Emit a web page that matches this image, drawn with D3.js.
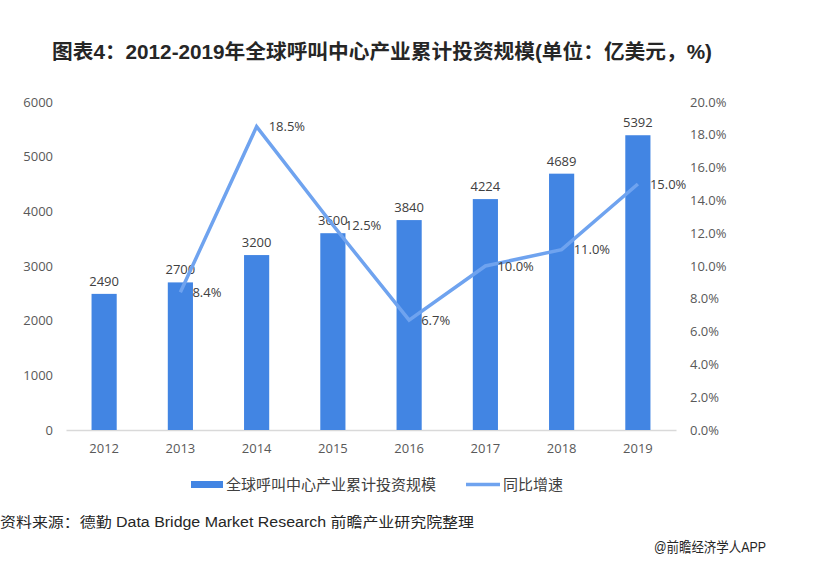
<!DOCTYPE html>
<html>
<head>
<meta charset="utf-8">
<script src="https://cdn.jsdelivr.net/npm/d3@7"></script>
<style>
    body { margin: 0; background: #fff; }
    text { font-family: "Liberation Sans", "Noto Sans CJK SC", sans-serif; }
</style>
</head>
<body>
<div id="chartdiv"></div>
<script>
// data
let years = ["2012", "2013", "2014", "2015", "2016", "2017", "2018", "2019"],
    invest = [2490, 2700, 3200, 3600, 3840, 4224, 4689, 5392],
    growth = [null, 8.4, 18.5, 12.5, 6.7, 10.0, 11.0, 15.0],
    leftTicks = [0, 1000, 2000, 3000, 4000, 5000, 6000],
    rightTicks = [0, 2, 4, 6, 8, 10, 12, 14, 16, 18, 20];

let title = "图表4：2012-2019年全球呼叫中心产业累计投资规模(单位：亿美元，%)",
    barName = "全球呼叫中心产业累计投资规模",
    lineName = "同比增速",
    source = "资料来源：德勤 Data Bridge Market Research 前瞻产业研究院整理",
    credit = "@前瞻经济学人APP";

// draw
{
    let width = 814,
        height = 567,
        margin = { top: 102, right: 138, bottom: 137, left: 66 },
        barColor = "#4285e3",
        lineColor = "#6fa3ef",
        labelColor = "#404040",
        tickColor = "#595959";

    let svg = d3.select("#chartdiv").append("svg")
        .attr("width", width)
        .attr("height", height);

    // title
    svg.append("text")
        .attr("x", 52)
        .attr("y", 59)
        .attr("font-size", 20)
        .attr("font-weight", "bold")
        .attr("fill", "#262626")
        .attr("textLength", 660)
        .attr("lengthAdjust", "spacingAndGlyphs")
        .text(title);

    let x = d3.scaleBand()
        .domain(years)
        .range([margin.left, width - margin.right])
        .paddingInner(0.67)
        .paddingOuter(0.335);
    let yL = d3.scaleLinear()
        .domain([0, 6000])
        .range([height - margin.bottom, margin.top]);
    let yR = d3.scaleLinear()
        .domain([0, 20])
        .range([height - margin.bottom, margin.top]);

    // left axis
    let axL = svg.append("g")
        .attr("transform", "translate(" + (margin.left - 6) + ",0)")
        .call(d3.axisLeft(yL).tickValues(leftTicks).tickSize(0).tickPadding(7)
            .tickFormat(d3.format("d")));
    axL.select(".domain").remove();
    axL.selectAll("text")
        .attr("font-size", 13)
        .attr("fill", tickColor)
        .style("font-family", "'Open Sans', sans-serif");

    // right axis
    let axR = svg.append("g")
        .attr("transform", "translate(" + (690) + ",0)")
        .call(d3.axisRight(yR).tickValues(rightTicks).tickSize(0).tickPadding(0)
            .tickFormat(function(d) { return d.toFixed(1) + "%"; }));
    axR.select(".domain").remove();
    axR.selectAll("text")
        .attr("font-size", 13)
        .attr("fill", tickColor)
        .style("font-family", "'Open Sans', sans-serif");

    // bottom axis
    let axB = svg.append("g")
        .attr("transform", "translate(0," + (height - margin.bottom) + ")")
        .call(d3.axisBottom(x).tickSize(0).tickPadding(14));
    axB.select(".domain")
        .attr("stroke", "#d9d9d9")
        .attr("stroke-width", 1.5);
    axB.selectAll("text")
        .attr("font-size", 13)
        .attr("fill", tickColor)
        .style("font-family", "'Open Sans', sans-serif");

    // bars
    svg.selectAll(".barRect")
        .data(invest)
        .enter()
        .append("rect")
        .attr("class", "barRect")
        .attr("x", function(d, i) { return x(years[i]); })
        .attr("y", function(d) { return yL(d); })
        .attr("width", x.bandwidth())
        .attr("height", function(d) { return yL(0) - yL(d); })
        .attr("fill", barColor);

    svg.selectAll(".barLabel")
        .data(invest)
        .enter()
        .append("text")
        .attr("class", "barLabel")
        .attr("x", function(d, i) { return x(years[i]) + x.bandwidth() / 2; })
        .attr("y", function(d) { return yL(d) - 8; })
        .attr("text-anchor", "middle")
        .attr("font-size", 13)
        .attr("fill", labelColor)
        .style("font-family", "'Open Sans', sans-serif")
        .text(function(d) { return d; });

    // line
    let pts = [];
    for (let i = 0; i < years.length; ++i) {
        if (growth[i] !== null) pts.push({ year: years[i], v: growth[i] });
    }
    let line = d3.line()
        .x(function(d) { return x(d.year) + x.bandwidth() / 2; })
        .y(function(d) { return yR(d.v); });
    svg.append("path")
        .datum(pts)
        .attr("d", line)
        .attr("fill", "none")
        .attr("stroke", lineColor)
        .attr("stroke-width", 3.5)
        .attr("stroke-linejoin", "miter");

    svg.selectAll(".lineLabel")
        .data(pts)
        .enter()
        .append("text")
        .attr("class", "lineLabel")
        .attr("x", function(d) { return x(d.year) + x.bandwidth() / 2 + 12; })
        .attr("y", function(d) { return yR(d.v); })
        .attr("dy", "0.35em")
        .attr("font-size", 13)
        .attr("fill", labelColor)
        .style("font-family", "'Open Sans', sans-serif")
        .text(function(d) { return d.v.toFixed(1) + "%"; });

    // legend
    svg.append("rect")
        .attr("x", 191)
        .attr("y", 481)
        .attr("width", 32)
        .attr("height", 7)
        .attr("fill", barColor);
    svg.append("text")
        .attr("x", 226)
        .attr("y", 490)
        .attr("font-size", 15)
        .attr("fill", labelColor)
        .text(barName);
    svg.append("line")
        .attr("x1", 466)
        .attr("x2", 500)
        .attr("y1", 484.5)
        .attr("y2", 484.5)
        .attr("stroke", lineColor)
        .attr("stroke-width", 3.5);
    svg.append("text")
        .attr("x", 503)
        .attr("y", 490)
        .attr("font-size", 15)
        .attr("fill", labelColor)
        .text(lineName);

    // footer
    svg.append("text")
        .attr("x", 0)
        .attr("y", 527)
        .attr("font-size", 14)
        .attr("fill", "#262626")
        .attr("textLength", 474)
        .attr("lengthAdjust", "spacingAndGlyphs")
        .text(source);
    svg.append("text")
        .attr("x", 654)
        .attr("y", 552)
        .attr("font-size", 14)
        .attr("fill", "#262626")
        .attr("textLength", 112)
        .attr("lengthAdjust", "spacingAndGlyphs")
        .text(credit);
}
</script>
</body>
</html>
